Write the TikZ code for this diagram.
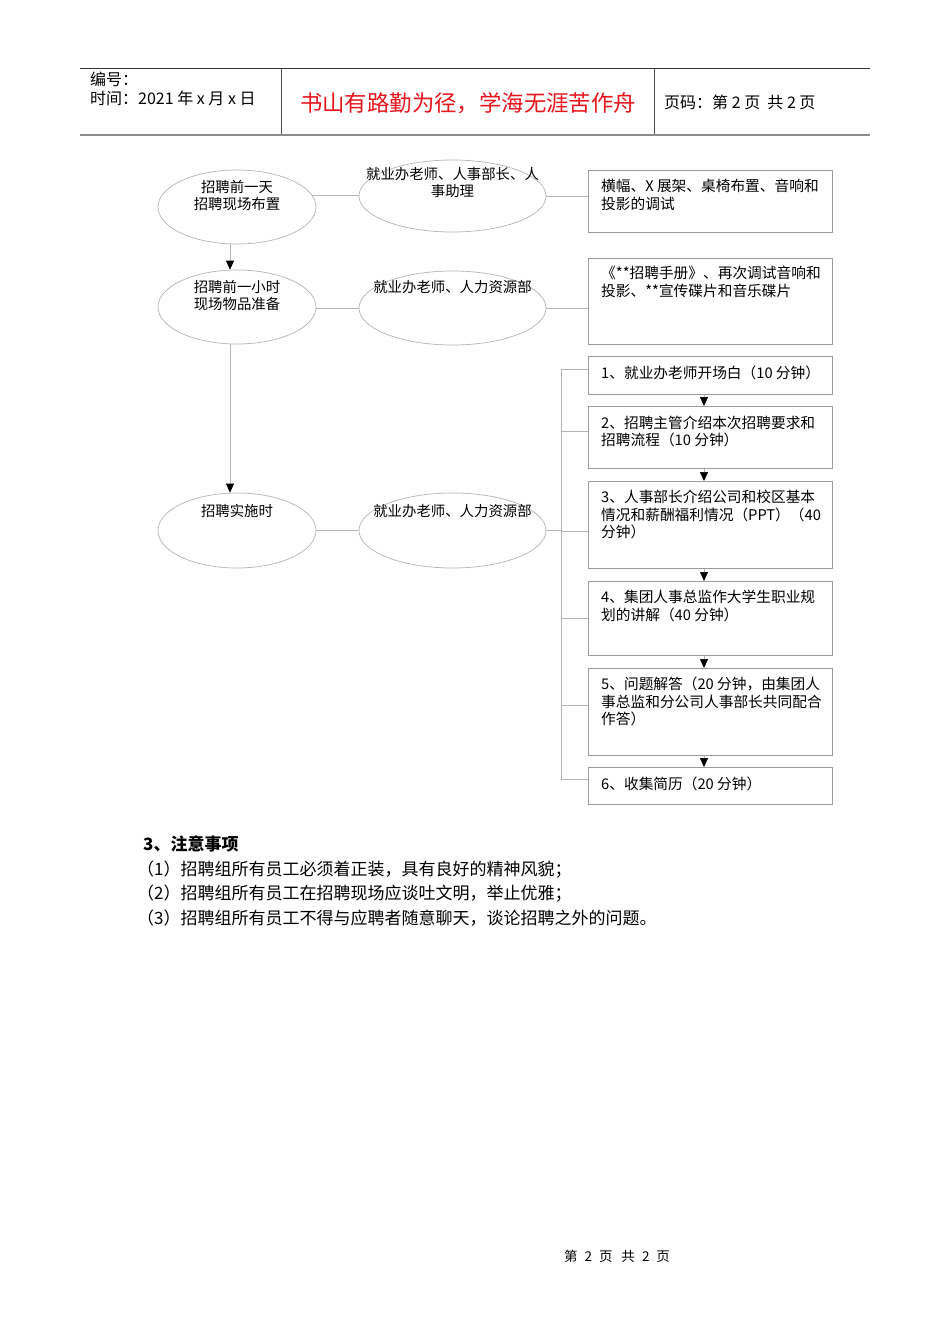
\documentclass[tikz,border=0pt]{standalone}
\usepackage{fontspec}
\setmainfont{Noto Sans CJK SC}
\usetikzlibrary{shapes.geometric,arrows.meta}
\definecolor{titlered}{HTML}{E8141B}
\definecolor{elline}{HTML}{B4B4B4}
\definecolor{bxline}{HTML}{9C9C9C}
\newcommand{\flowfont}{\fontsize{14.4}{17.2}\selectfont}
\newcommand{\boxfont}{\fontsize{14.7}{17.5}\selectfont}
\newcommand{\notefont}{\fontsize{17}{24.5}\selectfont}
\newcommand{\headfont}{\fontsize{16}{19}\selectfont}
\begin{document}
\begin{tikzpicture}[x=1pt,y=-1pt,
  ell/.style={ellipse,draw=elline,line width=0.7pt,inner sep=0pt},
  bx/.style={rectangle,draw=bxline,line width=0.8pt,inner sep=0pt,anchor=north west,minimum width=244},
  conn/.style={draw=elline,line width=0.7pt},
  arr/.style={conn,-{Triangle[length=9pt,width=8pt,black]}},
  ltxt/.style={inner sep=0pt,font=\boxfont,align=left,anchor=north west},
  ctxt/.style={inner sep=0pt,font=\flowfont,align=center,anchor=north},
  htxt/.style={inner sep=0pt,font=\headfont,anchor=base west},
  ntxt/.style={inner sep=0pt,font=\notefont,anchor=base west},
]
\useasboundingbox (0,0) rectangle (950,1344);
\fill[white] (0,0) rectangle (950,1344);

% header table
\draw[black!80,line width=0.8pt] (80,68) -- (870,68);
\draw[black!45,line width=2pt] (80,135) -- (870,135);
\draw[black!70,line width=0.8pt] (281,68) -- (281,134);
\draw[black!70,line width=0.8pt] (654,68) -- (654,134);
\node[htxt] (hnum) at (90,85.6) {编号：};
\node[htxt] (htime) at (90,104.6) {时间：2021 年 x 月 x 日};
\node[inner sep=0pt,anchor=base,font=\fontsize{22.4}{26}\selectfont,text=titlered] (htitle) at (468,111.8) {书山有路勤为径，学海无涯苦作舟};
\node[htxt] (hpage) at (664,108.6) {页码：第 2 页\ \ 共 2 页};

% ellipses
\node[ell,minimum width=158,minimum height=74] (e1) at (237,207) {};
\node[ell,minimum width=158,minimum height=74] (e2) at (237,307) {};
\node[ell,minimum width=158,minimum height=75] (e3) at (237,530.5) {};
\node[ell,minimum width=187,minimum height=72] (c1) at (452.5,196) {};
\node[ell,minimum width=187,minimum height=74] (c2) at (452.5,308) {};
\node[ell,minimum width=187,minimum height=75] (c3) at (452.5,530.5) {};

\node[ctxt] (e1t) at (237,180) {招聘前一天\\招聘现场布置};
\node[ctxt] (e2t) at (237,280) {招聘前一小时\\现场物品准备};
\node[ctxt] (e3t) at (237,504) {招聘实施时};
\node[ctxt] (c1t) at (452.5,167) {就业办老师、人事部长、人\\事助理};
\node[ctxt] (c2t) at (452.5,280) {就业办老师、人力资源部};
\node[ctxt] (c3t) at (452.5,504) {就业办老师、人力资源部};

% boxes
\node[bx,minimum height=62] (bA) at (588,170) {};
\node[bx,minimum height=86] (bB) at (588,258) {};
\node[bx,minimum height=38] (b1) at (588,356) {};
\node[bx,minimum height=62] (b2) at (588,406) {};
\node[bx,minimum height=87] (b3) at (588,481) {};
\node[bx,minimum height=74] (b4) at (588,581) {};
\node[bx,minimum height=87] (b5) at (588,668) {};
\node[bx,minimum height=37] (b6) at (588,767) {};

\node[ltxt] (bAt) at (601,179) {横幅、X 展架、桌椅布置、音响和\\投影的调试};
\node[ltxt] (bBt) at (601,266) {《**招聘手册》、再次调试音响和\\投影、**宣传碟片和音乐碟片};
\node[ltxt] (b1t) at (601,365.5) {1、就业办老师开场白（10 分钟）};
\node[ltxt] (b2t) at (601,415.5) {2、招聘主管介绍本次招聘要求和\\招聘流程（10 分钟）};
\node[ltxt] (b3t) at (601,490) {3、人事部长介绍公司和校区基本\\情况和薪酬福利情况（PPT）（40\\分钟）};
\node[ltxt] (b4t) at (601,590) {4、集团人事总监作大学生职业规\\划的讲解（40 分钟）};
\node[ltxt] (b5t) at (601,677) {5、问题解答（20 分钟，由集团人\\事总监和分公司人事部长共同配合\\作答）};
\node[ltxt] (b6t) at (601,776.5) {6、收集简历（20 分钟）};

% connectors
\coordinate (lx) at (230,0);
\draw[arr] (e1.south -| lx) -- (e2.north -| lx);
\draw[arr] (e2.south -| lx) -- (e3.north -| lx);
\draw[conn] (e1.9) -- (e1.9 -| c1.west);
\draw[conn] (c1.east) -- (c1.east -| bA.west);
\draw[conn] (e2.east |- c2.west) -- (c2.west);
\draw[conn] (c2.east) -- (c2.east -| bB.west);
\draw[conn] (e3.east) -- (c3.west);

\coordinate (t1) at (561,369);
\coordinate (t2) at (561,431);
\coordinate (t3) at (561,531);
\coordinate (t4) at (561,618);
\coordinate (t5) at (561,705);
\coordinate (t6) at (561,779);
\draw[conn] (c3.east) -- (c3.east -| t3);
\draw[conn] (t1) -- (t6);
\draw[conn] (t1) -- (t1 -| b1.west);
\draw[conn] (t2) -- (t2 -| b2.west);
\draw[conn] (t3) -- (t3 -| b3.west);
\draw[conn] (t4) -- (t4 -| b4.west);
\draw[conn] (t5) -- (t5 -| b5.west);
\draw[conn] (t6) -- (t6 -| b6.west);

\coordinate (ax) at (704,0);
\draw[arr] (b1.south -| ax) -- (b2.north -| ax);
\draw[arr] (b2.south -| ax) -- (b3.north -| ax);
\draw[arr] (b3.south -| ax) -- (b4.north -| ax);
\draw[arr] (b4.south -| ax) -- (b5.north -| ax);
\draw[arr] (b5.south -| ax) -- (b6.north -| ax);

% notes
\node[ntxt,font=\notefont\bfseries] (nh) at (143,850.8) {3、注意事项};
\node[ntxt] (n1) at (137,875.8) {（1）招聘组所有员工必须着正装，具有良好的精神风貌；};
\node[ntxt] (n2) at (137,899.8) {（2）招聘组所有员工在招聘现场应谈吐文明，举止优雅；};
\node[ntxt] (n3) at (137,924.8) {（3）招聘组所有员工不得与应聘者随意聊天，谈论招聘之外的问题。};

% footer
\node[inner sep=0pt,anchor=base,font=\fontsize{13.5}{16}\selectfont] (ft) at (617,1261) {第\hspace{7pt}2\hspace{7pt}页\hspace{9pt}共\hspace{7pt}2\hspace{7pt}页};
\end{tikzpicture}
\end{document}
